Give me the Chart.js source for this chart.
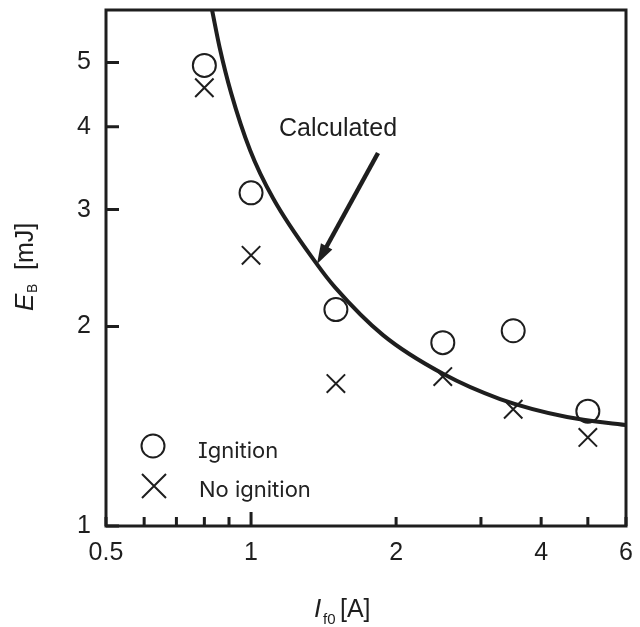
<!DOCTYPE html>
<html><head><meta charset="utf-8">
<script src="https://cdn.jsdelivr.net/npm/chart.js@4.4.0/dist/chart.umd.min.js"></script>
<style>
html,body{margin:0;padding:0;background:#fff;}
#wrap{position:relative;width:640px;height:627px;}
.leg{position:absolute;font-family:Inter,"Noto Sans",sans-serif;font-size:22px;line-height:22px;color:#222;font-feature-settings:"cv08" 1;white-space:nowrap;}
</style></head><body>
<div id="wrap"><canvas id="c" width="640" height="627"></canvas>
<div class="leg" style="left:198px;top:439px">Ignition</div>
<div class="leg" style="left:199px;top:478px">No ignition</div>
</div>
<script>
const ignitionX = [0.8, 1.0, 1.5, 2.5, 3.5, 5.0];
const ignitionY = [4.95, 3.18, 2.12, 1.89, 1.97, 1.49];
const noIgnitionX = [0.8, 1.0, 1.5, 2.5, 3.5, 5.0];
const noIgnitionY = [4.58, 2.56, 1.64, 1.68, 1.50, 1.36];
const calcX = [0.83, 0.862, 0.909, 0.995, 1.111, 1.371, 1.494, 1.879, 2.503, 3.287, 4.527, 6.0];
const calcY = [6.0, 5.24, 4.50, 3.69, 3.12, 2.48, 2.29, 1.94, 1.696, 1.554, 1.460, 1.420];
const xTicks = [0.5, 0.6, 0.7, 0.8, 0.9, 1, 2, 3, 4, 5, 6];
const xLabels = [0.5, 1, 2, 4, 6];
const yTicks = [1, 2, 3, 4, 5];
const yLabels = [1, 2, 3, 4, 5];

const INK = '#1e1e1e';
const SANS = '"Liberation Sans", Arial, sans-serif';
const pts = (xs, ys) => xs.map((x, i) => ({x, y: ys[i]}));

const decor = {
  id: 'decor',
  afterDraw(chart) {
    const {ctx, chartArea: a, scales: {x, y}} = chart;
    ctx.save();
    ctx.strokeStyle = INK; ctx.fillStyle = INK;
    ctx.lineWidth = 3;
    ctx.strokeRect(a.left, a.top, a.right - a.left, a.bottom - a.top);
    ctx.beginPath();
    yTicks.forEach(v => { const py = y.getPixelForValue(v); ctx.moveTo(a.left, py); ctx.lineTo(a.left + 13, py); });
    xTicks.forEach(v => { const px = x.getPixelForValue(v); const L = (v === 1) ? 14 : 9; ctx.moveTo(px, a.bottom); ctx.lineTo(px, a.bottom - L); });
    ctx.stroke();
    ctx.font = '25px ' + SANS;
    ctx.textBaseline = 'alphabetic'; ctx.textAlign = 'left';
    ctx.fillText('Calculated', 279, 136);
    const x0 = 378, y0 = 153, x1 = 317, y1 = 264;
    const dx = x1 - x0, dy = y1 - y0, len = Math.hypot(dx, dy), ux = dx / len, uy = dy / len;
    const hl = 20, hw = 6.5;
    const bx = x1 - ux * hl, by = y1 - uy * hl;
    ctx.lineWidth = 4.5; ctx.lineCap = 'butt';
    ctx.beginPath(); ctx.moveTo(x0, y0); ctx.lineTo(bx + ux * 2, by + uy * 2); ctx.stroke();
    ctx.beginPath(); ctx.moveTo(x1, y1); ctx.lineTo(bx - uy * hw, by + ux * hw); ctx.lineTo(bx + uy * hw, by - ux * hw); ctx.closePath(); ctx.fill();
    ctx.lineWidth = 2;
    ctx.beginPath(); ctx.arc(153, 446, 11.5, 0, Math.PI * 2); ctx.stroke();
    ctx.beginPath();
    ctx.moveTo(142, 474); ctx.lineTo(166, 498); ctx.moveTo(166, 474); ctx.lineTo(142, 498);
    ctx.stroke();
    ctx.font = 'italic 26px ' + SANS;
    ctx.fillText('I', 314, 617);
    ctx.font = '15px ' + SANS;
    ctx.fillText('f0', 323, 624);
    ctx.font = '25px ' + SANS;
    ctx.fillText('[A]', 340, 617);
    ctx.translate(33, 311); ctx.rotate(-Math.PI / 2);
    ctx.font = 'italic 26px ' + SANS;
    ctx.fillText('E', 0, 0);
    ctx.font = '14px ' + SANS;
    ctx.fillText('B', 18, 4);
    ctx.font = '25px ' + SANS;
    ctx.fillText('[mJ]', 41, 0);
    ctx.restore();
  }
};

new Chart(document.getElementById('c'), {
  type: 'scatter',
  data: {
    datasets: [
      {label: 'Calculated', type: 'line', data: pts(calcX, calcY), borderColor: INK, borderWidth: 4,
       pointRadius: 0, cubicInterpolationMode: 'monotone', fill: false, order: 3},
      {label: 'Ignition', data: pts(ignitionX, ignitionY), pointStyle: 'circle', pointRadius: 11.5,
       borderWidth: 2, borderColor: INK, backgroundColor: 'rgba(0,0,0,0)', order: 1},
      {label: 'No ignition', data: pts(noIgnitionX, noIgnitionY), pointStyle: 'crossRot', pointRadius: 13,
       borderWidth: 2, borderColor: INK, backgroundColor: INK, order: 2}
    ]
  },
  options: {
    responsive: false, animation: false, events: [],
    layout: {autoPadding: false, padding: {top: 10, right: 14, left: 0, bottom: 0}},
    plugins: {legend: {display: false}, tooltip: {enabled: false}},
    scales: {
      x: {
        type: 'logarithmic', position: 'bottom', min: 0.5, max: 6,
        afterBuildTicks: s => { s.ticks = xTicks.map(v => ({value: v})); },
        afterFit: s => { s.height = 101; s.paddingLeft = 0; s.paddingRight = 0; },
        grid: {display: false, drawTicks: false}, border: {display: false},
        ticks: {autoSkip: false, maxRotation: 0, minRotation: 0, padding: 12, color: INK,
                font: {family: SANS, size: 25},
                callback: v => xLabels.includes(v) ? String(v) : ''}
      },
      y: {
        type: 'logarithmic', position: 'left', min: 1, max: 6,
        afterBuildTicks: s => { s.ticks = yTicks.map(v => ({value: v})); },
        afterFit: s => { s.width = 106; s.paddingTop = 0; s.paddingBottom = 0; },
        grid: {display: false, drawTicks: false}, border: {display: false},
        ticks: {autoSkip: false, padding: 15, color: INK,
                font: {family: SANS, size: 25},
                callback: v => yLabels.includes(v) ? String(v) : ''}
      }
    }
  },
  plugins: [decor]
});
</script>
</body></html>
